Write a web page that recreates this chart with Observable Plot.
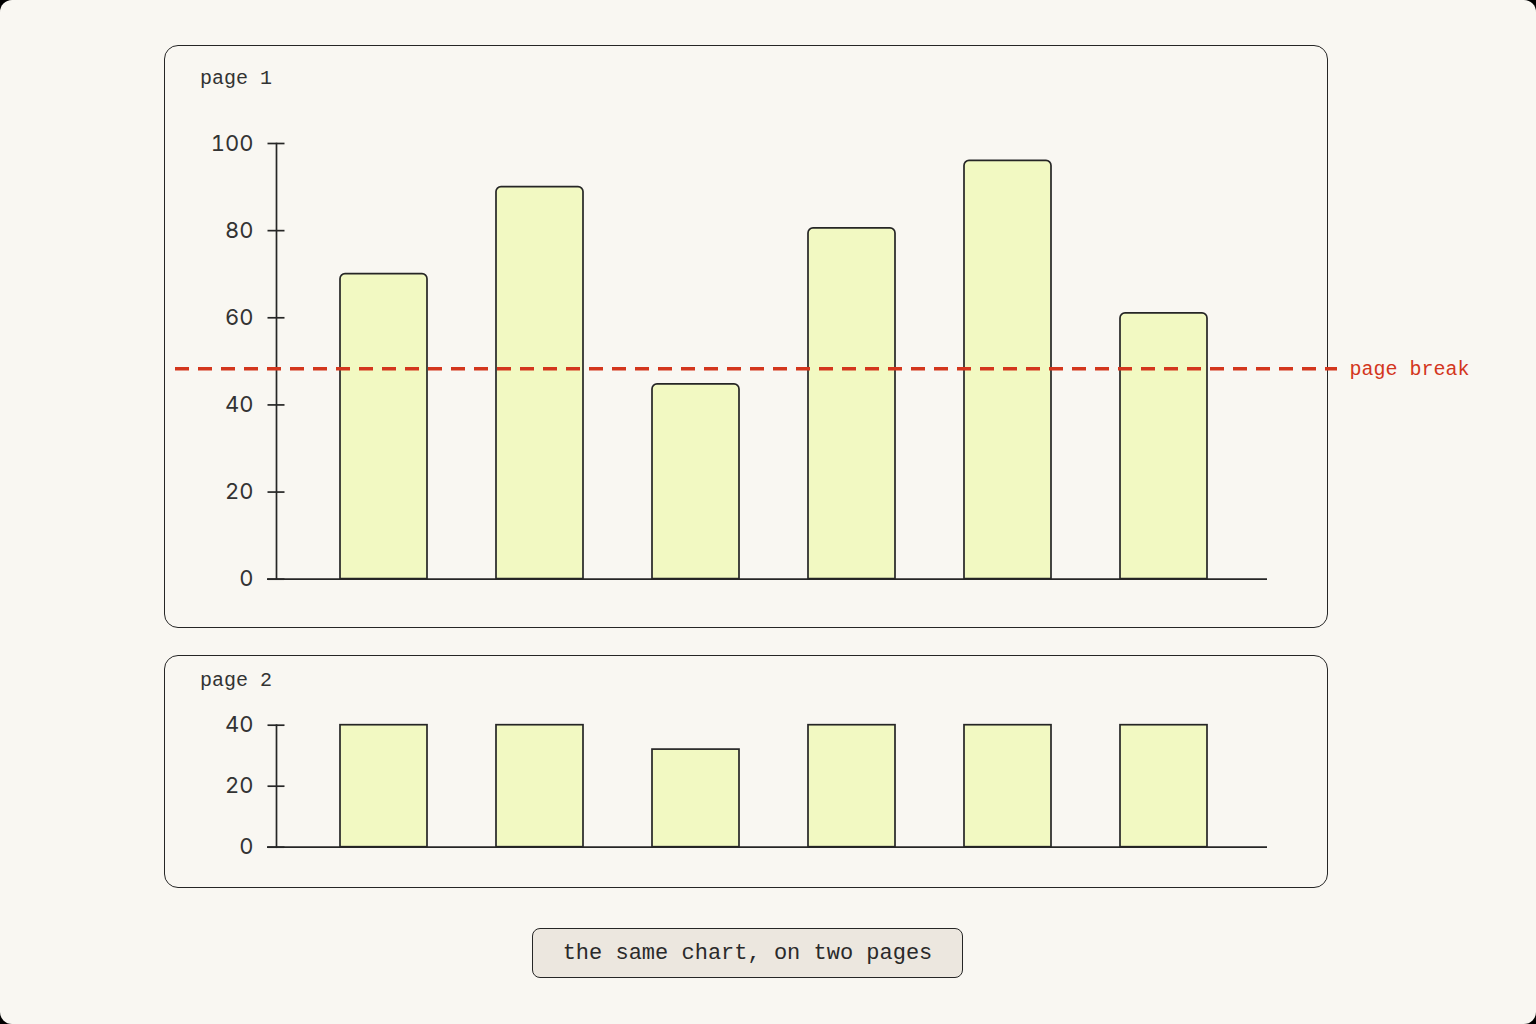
<!DOCTYPE html>
<html>
<head>
<meta charset="utf-8">
<script src="https://cdn.jsdelivr.net/npm/d3@7"></script>
<script src="https://cdn.jsdelivr.net/npm/@observablehq/plot@0.6"></script>
<style>
  html, body { margin: 0; padding: 0; background: #000; }
  #page {
    position: relative; width: 1536px; height: 1024px; background: #f9f7f2;
    border-radius: 12px; overflow: hidden;
  }
  .panel {
    position: absolute; box-sizing: border-box; border: 1.9px solid #262626;
    border-radius: 14px; background: transparent;
  }
  .plabel {
    position: absolute; font-family: "Liberation Mono", "DejaVu Sans Mono", monospace;
    font-size: 20px; color: #333; white-space: pre;
  }
  .chart { position: absolute; left: 0; }
  #caption {
    position: absolute; left: 532px; top: 928px; width: 431px; height: 50px; box-sizing: border-box;
    border: 1.9px solid #262626; border-radius: 8px; background: #ece7df;
    font-family: "Liberation Mono", "DejaVu Sans Mono", monospace; font-size: 22px; color: #2a2a2a;
    display: flex; align-items: center; justify-content: center; white-space: pre;
  }
</style>
</head>
<body>
<div id="page">
  <div class="panel" style="left:164px; top:45px; width:1164px; height:583px;"></div>
  <div class="panel" style="left:164px; top:655px; width:1164px; height:233px;"></div>
  <div class="plabel" style="left:200px; top:67px;">page 1</div>
  <div class="plabel" style="left:200px; top:669px;">page 2</div>
  <div class="chart" id="c1" style="top:0px;"></div>
  <div class="chart" id="c2" style="top:640px;"></div>
  <div id="caption">the same chart, on two pages</div>
</div>
<script>
const categories = ["A", "B", "C", "D", "E", "F"];
const page1Values = [70, 90, 44.7, 80.5, 96, 61];
const page2Values = [40, 40, 32, 40, 40, 40];
const page1Ticks = [0, 20, 40, 60, 80, 100];
const page2Ticks = [0, 20, 40];
const pageBreak = 48.3;
const pageBreakLabel = "page break";

const page1 = categories.map((c, i) => ({cat: c, value: page1Values[i]}));
const page2 = categories.map((c, i) => ({cat: c, value: page2Values[i]}));

const ink = "#262626";
const barFill = "#f2f9c2";
const sw = 1.7;

function xScale() {
  return {domain: categories, paddingInner: 0.44, paddingOuter: 0.22, insetLeft: 30, insetRight: 25, axis: null};
}

const style = {background: "transparent", fontFamily: "Inter, 'Open Sans', sans-serif", fontSize: "22px", color: "#333", overflow: "visible"};

const chart1 = Plot.plot({
  width: 1536, height: 640,
  marginLeft: 276, marginRight: 269, marginTop: 143, marginBottom: 61.3,
  style,
  x: xScale(),
  y: {domain: [0, 100], ticks: page1Ticks, label: null},
  marks: [
    Plot.barY(page1, {x: "cat", y: "value", fill: barFill, stroke: ink, strokeWidth: sw, rx1y1: 5, rx2y1: 5}),
    Plot.ruleY([0], {stroke: ink, strokeWidth: sw, insetLeft: -9}),
    Plot.frame({anchor: "left", stroke: ink, strokeWidth: sw}),
    Plot.axisY({ticks: page1Ticks, tickSize: 17, dx: 8.5, tickPadding: 14.5, stroke: ink, strokeWidth: sw, fill: "#333", label: null}),
    Plot.ruleY([pageBreak], {stroke: "#d3361d", strokeWidth: 3.5, strokeDasharray: "14,9", insetLeft: -101, insetRight: -70}),
    Plot.text([pageBreakLabel], {y: [pageBreak], text: d => d, frameAnchor: "right", textAnchor: "start", dx: 82, fill: "#d3361d", fontFamily: "'Liberation Mono', 'DejaVu Sans Mono', monospace", fontSize: 20})
  ]
});
document.getElementById("c1").appendChild(chart1);

const chart2 = Plot.plot({
  width: 1536, height: 260,
  marginLeft: 276, marginRight: 269, marginTop: 84.7, marginBottom: 53.3,
  style,
  x: xScale(),
  y: {domain: [0, 40], ticks: page2Ticks, label: null},
  marks: [
    Plot.barY(page2, {x: "cat", y: "value", fill: barFill, stroke: ink, strokeWidth: sw}),
    Plot.ruleY([0], {stroke: ink, strokeWidth: sw, insetLeft: -9}),
    Plot.frame({anchor: "left", stroke: ink, strokeWidth: sw}),
    Plot.axisY({ticks: page2Ticks, tickSize: 17, dx: 8.5, tickPadding: 14.5, stroke: ink, strokeWidth: sw, fill: "#333", label: null})
  ]
});
document.getElementById("c2").appendChild(chart2);
</script>
</body>
</html>
